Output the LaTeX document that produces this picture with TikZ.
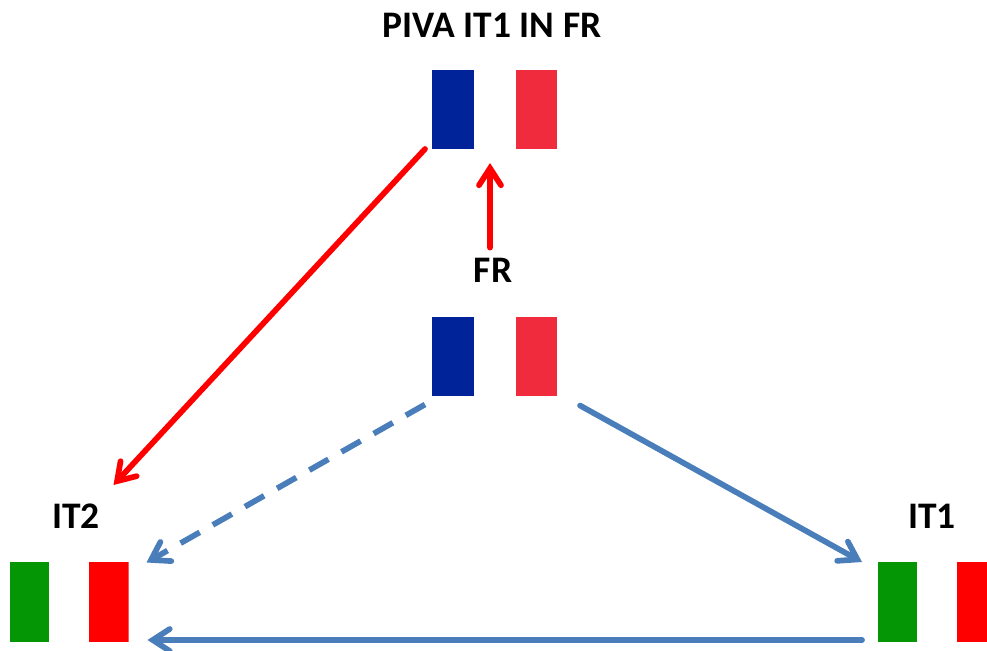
\documentclass[tikz,border=0pt]{standalone}
\usepackage{fontspec}
\setmainfont{Carlito}
\usetikzlibrary{arrows.meta,calc}
\definecolor{frblue}{HTML}{00239A}
\definecolor{frred}{HTML}{EF2B3D}
\definecolor{itgreen}{HTML}{049604}
\definecolor{itred}{HTML}{FF0000}
\definecolor{linkblue}{HTML}{4A7EBB}
\definecolor{linkred}{HTML}{FF0000}
\tikzset{
  flag/.style n args={2}{inner sep=0pt,outer sep=0pt,anchor=north west,
    path picture={
      \fill[#1] (path picture bounding box.south west) rectangle
        ($(path picture bounding box.north west)!0.333!(path picture bounding box.north east)$);
      \fill[#2] (path picture bounding box.north east) rectangle
        ($(path picture bounding box.south west)!0.67!(path picture bounding box.south east)$);
    }},
  frflag/.style={flag={frblue}{frred},minimum width=125pt,minimum height=79pt},
  itflag/.style={flag={itgreen}{itred},minimum width=118.5pt,minimum height=80pt},
  caption/.style={font=\fontsize{37.5}{37.5}\selectfont\bfseries,text=black,inner sep=0pt},
  link/.style={line width=5.7pt,line cap=round,line join=round,
    -{Straight Barb[length=17pt,width=22pt,line width=5.7pt,line cap=round,line join=miter]}},
  redlink/.style={link,draw=linkred},
  bluelink/.style={link,draw=linkblue},
  dashlink/.style={bluelink,line cap=butt,dash pattern=on 22pt off 15pt},
}
\begin{document}
\begin{tikzpicture}[x=1pt,y=-1pt]
\path[use as bounding box,clip] (0,0) rectangle (987,650);
\node[frflag] (frtop) at (432,70) {};
\node[frflag] (frmid) at (432,316.5) {};
\node[itflag] (ittwo) at (10,562) {};
\node[itflag] (itone) at (878,562) {};
\node[caption] (ptop) at (492,25) {PIVA IT1 IN FR};
\node[caption] (pfr) at (493,270) {FR};
\node[caption] (pit2) at (76,516) {IT2};
\node[caption] (pit1) at (932,516) {IT1};
\draw[redlink] ([shift={(-7,0)}]frtop.south west) -- ([shift={(-15,-77)}]ittwo.north east);
\draw[redlink] ($(pfr.north)+(-3,-10)$) -- ($(frtop.south)+(-4.5,14)$);
\draw[dashlink] ([shift={(-7,9)}]frmid.south west) -- ([shift={(18,0.5)}]ittwo.north east);
\draw[bluelink] ([shift={(23,10)}]frmid.south east) -- ([shift={(-16,0)}]itone.north west);
\draw[bluelink] ([shift={(-16,-2)}]itone.south west) -- ([shift={(19,-2)}]ittwo.south east);
\end{tikzpicture}
\end{document}
